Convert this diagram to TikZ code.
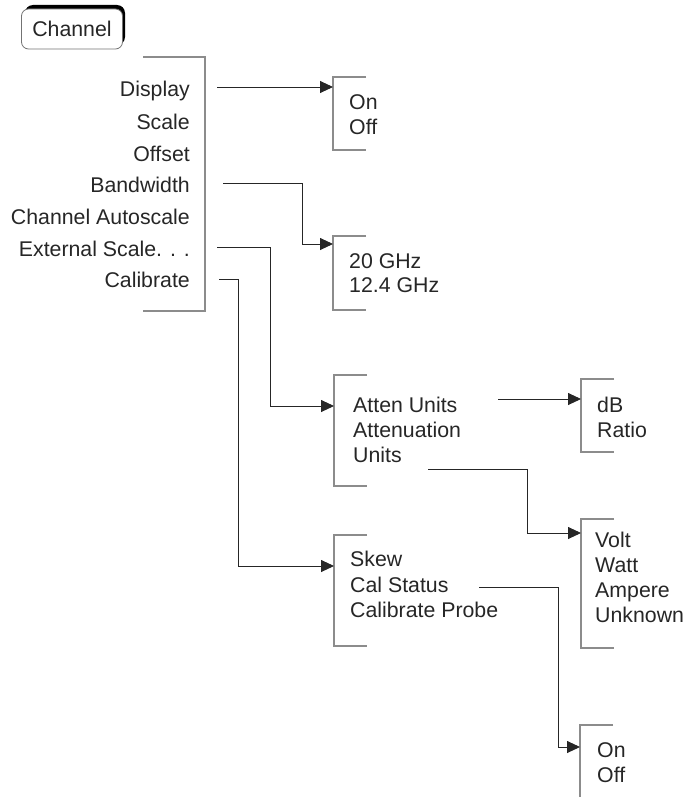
\documentclass[tikz,border=0pt]{standalone}
\usepackage{fontspec}
\setmainfont{Liberation Sans}
\usetikzlibrary{arrows.meta}
\newcommand\mbracket[3]{\draw[bracket] (#1+33,#2) -- (#1,#2) -- (#1,#3) -- (#1+33,#3);}
\begin{document}
\begin{tikzpicture}[x=1pt,y=-1pt,
  lbl/.style={font=\fontsize{21.3}{21.3}\selectfont, inner sep=0pt, text=black!85},
  mainitem/.style={lbl, anchor=base east},
  subitem/.style={lbl, anchor=base west},
  bracket/.style={draw=black!45, line width=1.1pt},
  conn/.style={draw=black!85, line width=0.9pt, -{Triangle[length=13pt,width=12pt]}},
  button/.style={lbl, draw=black!55, fill=white, line width=0.8pt, rounded corners=7pt, minimum width=101pt, minimum height=40pt}]
\useasboundingbox (0,0) rectangle (690,797);

% Channel key with shadow
\fill[black, rounded corners=8pt] (25,5) rectangle (125,45);
\node[button] (channel) at (72,29) {Channel};

% main menu
\draw[bracket] (143,57) -- (205,57) -- (205,311) -- (143,311);
\node[mainitem] (display) at (190,97) {Display};
\node[mainitem] (scale) at (190,129) {Scale};
\node[mainitem] (offset) at (190,161) {Offset};
\node[mainitem] (bandwidth) at (190,192) {Bandwidth};
\node[mainitem] (autoscale) at (190,224) {Channel Autoscale};
\node[mainitem] (external) at (190,256) {External Scale. . .};
\node[mainitem] (calibrate) at (190,287) {Calibrate};

% display submenu
\mbracket{333}{77}{150}
\node[subitem] (on1) at (349,110) {On};
\node[subitem] (off1) at (349,135) {Off};

% bandwidth submenu
\mbracket{333}{236}{310}
\node[subitem] (ghz20) at (349,268) {20 GHz};
\node[subitem] (ghz12) at (349,292) {12.4 GHz};

% external scale submenu
\mbracket{334}{375}{486}
\node[subitem] (attenunits) at (353,412) {Atten Units};
\node[subitem] (attenuation) at (353,437) {Attenuation};
\node[subitem] (units) at (353,462) {Units};

% calibrate submenu
\mbracket{334}{535}{646}
\node[subitem] (skew) at (350,566) {Skew};
\node[subitem] (calstatus) at (350,592) {Cal Status};
\node[subitem] (calprobe) at (350,617) {Calibrate Probe};

% atten units submenu
\mbracket{581}{379}{452}
\node[subitem] (db) at (597,412) {dB};
\node[subitem] (ratio) at (597,437) {Ratio};

% units submenu
\mbracket{581}{519}{648}
\node[subitem] (volt) at (595,547) {Volt};
\node[subitem] (watt) at (595,572) {Watt};
\node[subitem] (ampere) at (595,597) {Ampere};
\node[subitem] (unknown) at (595,622) {Unknown};

% cal status submenu
\draw[bracket] (613,725) -- (580,725) -- (580,797);
\node[subitem] (on2) at (597,757) {On};
\node[subitem] (off2) at (597,782) {Off};

% connectors
\coordinate (dispout) at (217,87);   \coordinate (dispin) at (333,87);
\coordinate (bwout) at (223,183);    \coordinate (bwbend) at (302,244); \coordinate (bwin) at (333,244);
\coordinate (extout) at (217,247);   \coordinate (extbend) at (270,406); \coordinate (extin) at (334,406);
\coordinate (calout) at (219,279);   \coordinate (calbend) at (238,566); \coordinate (calin) at (334,566);
\coordinate (auout) at (498,399);    \coordinate (auin) at (581,399);
\coordinate (unout) at (428,469);    \coordinate (unbend) at (527,533); \coordinate (unin) at (581,533);
\coordinate (csout) at (479,587);    \coordinate (csbend) at (558,747); \coordinate (csin) at (580,747);

\draw[conn] (dispout) -- (dispin);
\draw[conn] (bwout) -| (bwbend) -- (bwin);
\draw[conn] (extout) -| (extbend) -- (extin);
\draw[conn] (calout) -| (calbend) -- (calin);
\draw[conn] (auout) -- (auin);
\draw[conn] (unout) -| (unbend) -- (unin);
\draw[conn] (csout) -| (csbend) -- (csin);
\end{tikzpicture}
\end{document}
